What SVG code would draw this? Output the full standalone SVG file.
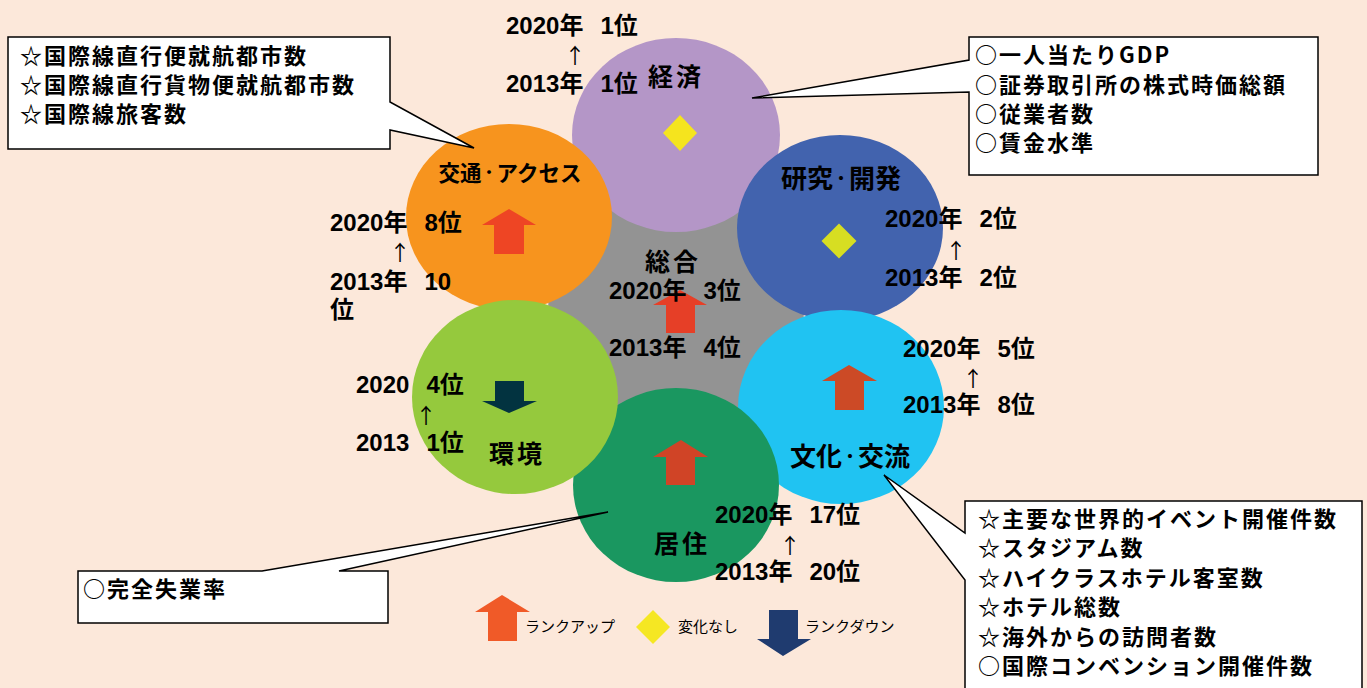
<svg xmlns="http://www.w3.org/2000/svg" width="1367" height="688" viewBox="0 0 1367 688">
<style>
.title{font-family:"Noto Sans CJK JP","Noto Sans CJK SC",sans-serif;font-weight:700;font-size:25px;fill:#000;text-anchor:middle}
.rank{font-family:"Liberation Sans","Noto Sans CJK JP",sans-serif;font-weight:700;font-size:24px;fill:#000}
.sp{font-size:17px}
.up{font-family:"Noto Sans CJK JP",sans-serif;font-weight:400;font-size:21px;fill:#000;text-anchor:middle}
.call{font-family:"Noto Sans CJK JP","Noto Sans CJK SC",sans-serif;font-weight:700;font-size:22px;fill:#000;letter-spacing:2px}
.box{fill:#fff;stroke:#000;stroke-width:1.5}
.leg{font-family:"Noto Sans CJK JP",sans-serif;font-weight:400;font-size:15px;fill:#000}
</style>
<rect width="1367" height="688" fill="#FCE8DA"/>
<g id="center">
<circle cx="676" cy="310" r="128" fill="#939393"/>
</g>
<g id="keizai"><ellipse cx="676" cy="135" rx="104" ry="97" fill="#B496C7"/></g>
<g id="kotsu"><ellipse cx="509" cy="217" rx="103" ry="93" fill="#F7941E"/></g>
<g id="kenkyu"><ellipse cx="840" cy="228" rx="103" ry="93" fill="#4263AE"/></g>
<g id="bunka"><ellipse cx="841" cy="407" rx="103" ry="97" fill="#20C3F2"/></g>
<g id="kyoju"><ellipse cx="676" cy="485" rx="103" ry="97" fill="#1A9760"/></g>
<g id="kankyo"><ellipse cx="515" cy="397" rx="103" ry="97" fill="#95C93D"/></g>

<g id="markers">
<path d="M509,209 L536,225 H524 V254 H494 V225 H482 Z" fill="#EE4524"/>
<path d="M680,290 L707,305 H695 V333 H666 V305 H653 Z" fill="#E63F27"/>
<path d="M681,440 L708,457 H695 V485 H666 V457 H653 Z" fill="#D04426"/>
<path d="M849,365 L877,381 H864 V410 H835 V381 H822 Z" fill="#CC4A26"/>
<path d="M495,381 H524 V401 H537 L509,413 L482,401 H495 Z" fill="#023340"/>
<path d="M680,115 L697,133 L680,151 L663,133 Z" fill="#F5E41E"/>
<path d="M839,223.5 L856.5,241 L839,258.5 L821.5,241 Z" fill="#D7DE22"/>
</g>

<g id="labels">
<text class="title" x="676" y="86" letter-spacing="3">経済</text>
<text class="title" x="673" y="271" letter-spacing="3">総合</text>
<text class="title" x="841" y="188" style="font-size:26px">研究<tspan dy="-4" style="font-size:16px">・</tspan><tspan dy="4">開発</tspan></text>
<text class="title" x="510" y="181" style="font-size:21.5px">交通<tspan dy="-3" style="font-size:15px">・</tspan><tspan dy="3">アクセス</tspan></text>
<text class="title" x="517" y="463" letter-spacing="3">環境</text>
<text class="title" x="682" y="553" letter-spacing="3">居住</text>
<text class="title" x="850" y="466" style="font-size:26px">文化<tspan dy="-4" style="font-size:16px">・</tspan><tspan dy="4">交流</tspan></text>
</g>

<g id="ranks">
<text class="rank" x="506" y="34">2020年<tspan class="sp">　</tspan>1位</text>
<text class="up" x="575" y="63">↑</text>
<text class="rank" x="506" y="92">2013年<tspan class="sp">　</tspan>1位</text>

<text class="rank" x="330" y="231">2020年<tspan class="sp">　</tspan>8位</text>
<text class="up" x="400" y="260">↑</text>
<text class="rank" x="330" y="290">2013年<tspan class="sp">　</tspan>10</text>
<text class="rank" x="330" y="318">位</text>

<text class="rank" x="356" y="393">2020<tspan class="sp">　</tspan>4位</text>
<text class="up" x="426" y="423">↑</text>
<text class="rank" x="356" y="451">2013<tspan class="sp">　</tspan>1位</text>

<text class="rank" x="609" y="299">2020年<tspan class="sp">　</tspan>3位</text>
<text class="rank" x="609" y="356">2013年<tspan class="sp">　</tspan>4位</text>

<text class="rank" x="885" y="227">2020年<tspan class="sp">　</tspan>2位</text>
<text class="up" x="956" y="258">↑</text>
<text class="rank" x="885" y="286">2013年<tspan class="sp">　</tspan>2位</text>

<text class="rank" x="903" y="357">2020年<tspan class="sp">　</tspan>5位</text>
<text class="up" x="973" y="386">↑</text>
<text class="rank" x="903" y="413">2013年<tspan class="sp">　</tspan>8位</text>

<text class="rank" x="715" y="523">2020年<tspan class="sp">　</tspan>17位</text>
<text class="up" x="790" y="553">↑</text>
<text class="rank" x="715" y="580">2013年<tspan class="sp">　</tspan>20位</text>
</g>

<g id="connectors">
<path class="box" d="M8,37 H390 V102 L474,148 L390,130 V149 H8 Z"/>
<path class="box" d="M969,37 H1318 V175 H969 V92 L752,98 L969,60 Z"/>
<path class="box" d="M78,571 H262 L608,512 L339,571 H388 V623 H78 Z"/>
<path class="box" d="M965,501 H1362 V700 H965 V580 L884,475 L965,533 Z"/>
</g>

<g id="callout-kotsu">
<text class="call" x="20" y="64">☆国際線直行便就航都市数</text>
<text class="call" x="20" y="93">☆国際線直行貨物便就航都市数</text>
<text class="call" x="20" y="122">☆国際線旅客数</text>
</g>
<g id="callout-keizai">
<text class="call" x="975" y="63">○一人当たりGDP</text>
<text class="call" x="975" y="93">○証券取引所の株式時価総額</text>
<text class="call" x="975" y="122">○従業者数</text>
<text class="call" x="975" y="151">○賃金水準</text>
</g>
<g id="callout-kyoju">
<text class="call" x="83" y="597">○完全失業率</text>
</g>
<g id="callout-bunka">
<text class="call" x="978" y="527">☆主要な世界的イベント開催件数</text>
<text class="call" x="978" y="556">☆スタジアム数</text>
<text class="call" x="978" y="586">☆ハイクラスホテル客室数</text>
<text class="call" x="978" y="615">☆ホテル総数</text>
<text class="call" x="978" y="645">☆海外からの訪問者数</text>
<text class="call" x="978" y="674">○国際コンベンション開催件数</text>
</g>

<g id="legend">
<path d="M502,595 L530,612 H517 V641 H488 V612 H475 Z" fill="#F05A28"/>
<text class="leg" x="525" y="632">ランクアップ</text>
<path d="M653,610 L670,627 L653,644 L636,627 Z" fill="#F5E723"/>
<text class="leg" x="678" y="632">変化なし</text>
<path d="M769,610 H798 V639 H811 L783,656 L757,639 H769 Z" fill="#1F3B6F"/>
<text class="leg" x="805" y="632">ランクダウン</text>
</g>
</svg>
